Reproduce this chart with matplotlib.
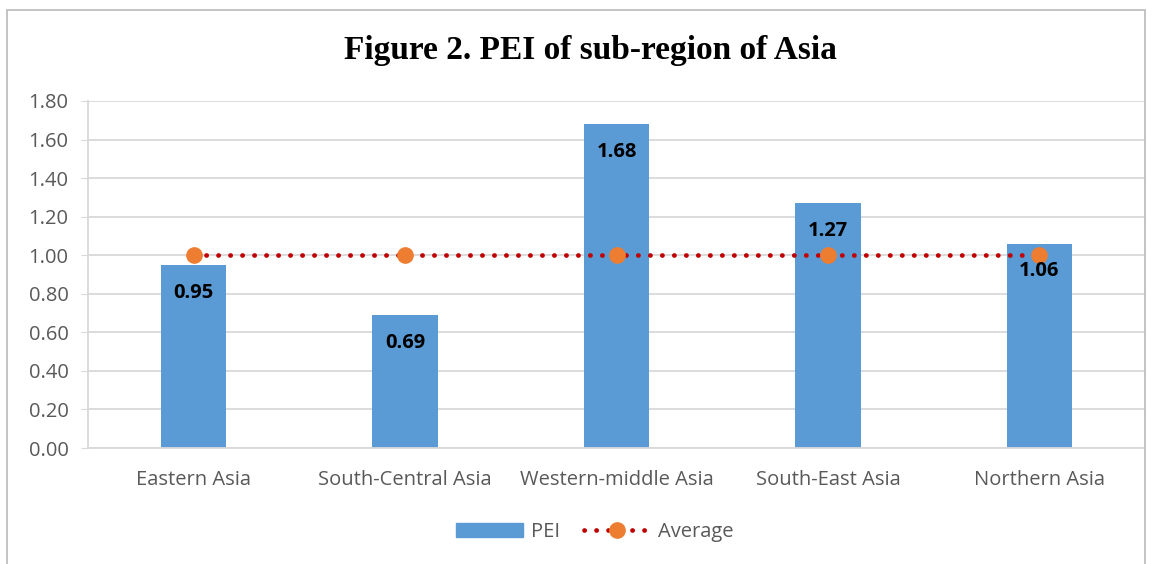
import numpy as np
import matplotlib.pyplot as plt
from matplotlib.patches import Rectangle
from matplotlib.lines import Line2D

regions = ["Eastern Asia", "South-Central Asia", "Western-middle Asia",
           "South-East Asia", "Northern Asia"]
pei = [0.95, 0.69, 1.68, 1.27, 1.06]
average = [1.00, 1.00, 1.00, 1.00, 1.00]
yticks = [0.0, 0.2, 0.4, 0.6, 0.8, 1.0, 1.2, 1.4, 1.6, 1.8]

BLUE = "#5B9BD5"
ORANGE = "#ED7D31"
DARKRED = "#C00000"
GREY = "#595959"
GRID = "#D9D9D9"

plt.rcParams['font.family'] = ['Open Sans', 'DejaVu Sans']

fig = plt.figure(figsize=(11.6, 5.64), dpi=100)
ax = fig.add_axes([88 / 1160, 1 - 448 / 564, 1057 / 1160, 347 / 564])

DOTS = (0, (0.05, 2.49))

x = np.arange(len(regions))
ax.bar(x, pei, width=0.31, color=BLUE, zorder=2)
ax.plot(x, average, linestyle=DOTS, dash_capstyle='round',
        color=DARKRED, linewidth=3.4, zorder=3)
ax.plot(x, average, linestyle='none', marker='o', markersize=11,
        color=ORANGE, zorder=4)

for xi, v in zip(x, pei):
    ax.annotate(f"{v:.2f}", (xi, v), xytext=(0, -20), textcoords='offset points',
                ha='center', va='center', fontsize=14.5, fontweight='bold',
                color='black', zorder=5)

ax.set_xlim(-0.5, len(regions) - 0.5)
ax.set_ylim(0, 1.8)
ax.set_yticks(yticks)
ax.set_yticklabels([f"{t:.2f}" for t in yticks])
ax.set_xticks(x)
ax.set_xticklabels(regions)
ax.tick_params(axis='y', colors=GREY, labelsize=14.5, length=5, color=GRID, pad=9)
ax.tick_params(axis='x', colors=GREY, labelsize=14.5, length=0, pad=16)
ax.grid(axis='y', color=GRID, linewidth=1.3, zorder=0)
ax.set_axisbelow(True)
for side in ['top', 'right']:
    ax.spines[side].set_visible(False)
ax.spines['left'].set_color(GRID)
ax.spines['bottom'].set_color(GRID)
ax.spines['left'].set_linewidth(1.3)
ax.spines['bottom'].set_linewidth(1.3)

fig.text(590 / 1160, 1 - 50 / 564, "Figure 2. PEI of sub-region of Asia",
         ha='center', va='center', fontsize=24, fontweight='bold',
         family=['Liberation Serif', 'DejaVu Serif'])

handles = [Rectangle((0, 0), 1, 1, color=BLUE),
           Line2D([], [], linestyle=DOTS, dash_capstyle='round',
                  color=DARKRED, linewidth=3.4, marker='o', markersize=11,
                  markerfacecolor=ORANGE, markeredgecolor=ORANGE)]
fig.legend(handles, ["PEI", "Average"], loc='center',
           bbox_to_anchor=(595 / 1160, 1 - 532 / 564), ncol=2, frameon=False,
           fontsize=14.5, labelcolor=GREY, handlelength=3.3, handletextpad=0.4,
           columnspacing=1.2)

border = Rectangle((7 / 1160, -0.05), 1138 / 1160, 1 - 10 / 564 + 0.05,
                   transform=fig.transFigure, fill=False, edgecolor="#BFBFBF",
                   linewidth=1.3)
fig.patches.append(border)

fig.savefig("out.png", dpi=100)
